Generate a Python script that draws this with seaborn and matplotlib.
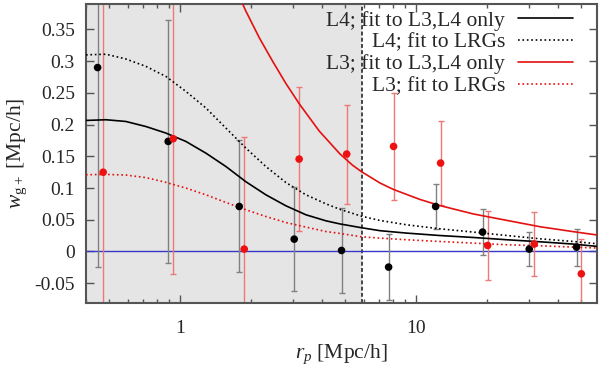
import numpy as np
import pandas as pd
import matplotlib
matplotlib.use("Agg")
import matplotlib.pyplot as plt
import seaborn as sns

# measured points, L4 sample (black) and L3 sample (red)
r_l4 = [0.448, 0.892, 1.784, 3.05, 4.84, 7.66, 12.12, 19.16, 30.2, 47.9]
w_l4 = [0.290, 0.1735, 0.071, 0.0195, 0.0016, -0.0246, 0.071, 0.0306, 0.0038, 0.0069]
e_l4 = [0.315, 0.192, 0.104, 0.082, 0.067, 0.052, 0.035, 0.036, 0.027, 0.029]

r_l3 = [0.473, 0.937, 1.873, 3.20, 5.09, 8.04, 12.72, 20.13, 31.7, 50.2]
w_l3 = [0.125, 0.1778, 0.0038, 0.1457, 0.1536, 0.1656, 0.1394, 0.0095, 0.0117, -0.0352]
e_l3 = [0.30, 0.2135, 0.176, 0.114, 0.078, 0.085, 0.066, 0.054, 0.051, 0.055]

r_fit = [0.400, 0.486, 0.590, 0.718, 0.872, 1.060, 1.289, 1.566, 1.903, 2.313, 2.811, 3.417,
         4.153, 4.76, 5.87, 7.04, 9.13, 12.6, 17.5, 24.3, 33.6, 46.4, 59.1]
w_l4_own = [0.2066, 0.2077, 0.205, 0.197, 0.1867, 0.1735, 0.155, 0.134, 0.110, 0.0894, 0.0721,
            0.0579, 0.0484, 0.0435, 0.0375, 0.0328, 0.029, 0.0252, 0.0221, 0.0185, 0.0153,
            0.0117, 0.0079]
w_l4_lrg = [0.310, 0.311, 0.3035, 0.2918, 0.276, 0.2524, 0.2262, 0.1946, 0.163, 0.134, 0.1088,
            0.0894, 0.0752, 0.0665, 0.0557, 0.0489, 0.0421, 0.0358, 0.0306, 0.0252, 0.020,
            0.0158, 0.0121]
w_l3_lrg = [0.121, 0.1215, 0.1205, 0.1165, 0.109, 0.100, 0.0894, 0.0773, 0.0658, 0.0552, 0.0457,
            0.0385, 0.0315, 0.0285, 0.0232, 0.0211, 0.0185, 0.0158, 0.0132, 0.0106, 0.009,
            0.0069, 0.0054]

r_l3_fit = [1.75, 1.903, 2.169, 2.470, 2.811, 3.201, 3.891, 4.76, 5.39, 5.87, 7.04, 8.03, 10.39,
            12.6, 17.5, 24.3, 33.6, 46.4, 59.1]
w_l3_own = [0.409, 0.379, 0.337, 0.300, 0.265, 0.233, 0.190, 0.154, 0.136, 0.126, 0.108, 0.0978,
            0.0821, 0.0725, 0.0592, 0.049, 0.039, 0.0313, 0.0258]

r_cut = 5.9

sns.set_theme(style="ticks")
plt.rcParams["font.family"] = ["Liberation Serif", "DejaVu Serif"]
plt.rcParams["mathtext.fontset"] = "custom"
plt.rcParams["mathtext.rm"] = "Liberation Serif"
plt.rcParams["mathtext.it"] = "Liberation Serif:italic"

fig, ax = plt.subplots(figsize=(6, 3.73), dpi=100)
fig.subplots_adjust(left=0.1433, right=0.995, top=0.989, bottom=0.188)

ax.axvspan(0.3, r_cut, color="#e5e5e5", zorder=0, lw=0)
ax.axvline(r_cut, color="#444444", lw=1.4, ls=(0, (2, 1.2)), zorder=1)
ax.axhline(0, color="#3838c8", lw=1.0, zorder=1)

fits = [
    (r_fit, w_l4_own, "L4; fit to L3,L4 only", "black", "-"),
    (r_fit, w_l4_lrg, "L4; fit to LRGs", "black", ":"),
    (r_l3_fit, w_l3_own, "L3; fit to L3,L4 only", "#e3110f", "-"),
    (r_fit, w_l3_lrg, "L3; fit to LRGs", "#e3110f", ":"),
]
for rr, ww, lab, col, ls in fits:
    df = pd.DataFrame({"r": rr, "w": ww})
    sns.lineplot(data=df, x="r", y="w", ax=ax, color=col, linestyle=ls, lw=1.2,
                 label=lab, sort=False, estimator=None, zorder=3)

ax.errorbar(r_l4, w_l4, yerr=e_l4, fmt="none", ecolor="#808080", elinewidth=1.0,
            capsize=2.5, capthick=1.0, zorder=2)
ax.errorbar(r_l3, w_l3, yerr=e_l3, fmt="none", ecolor="#ee7777", elinewidth=1.0,
            capsize=2.5, capthick=1.0, zorder=2)
sns.scatterplot(x=r_l4, y=w_l4, ax=ax, color="black", s=30, edgecolor="none", zorder=4)
sns.scatterplot(x=r_l3, y=w_l3, ax=ax, color="#ee1111", s=30, edgecolor="none", zorder=4)

ax.set_xscale("log")
ax.set_xlim(0.4, 58.5)
ax.set_ylim(-0.081, 0.39)
ax.set_yticks([-0.05, 0, 0.05, 0.1, 0.15, 0.2, 0.25, 0.3, 0.35])
ax.set_yticklabels(["-0.05", "0", "0.05", "0.1", "0.15", "0.2", "0.25", "0.3", "0.35"])
ax.set_xticks([1, 10])
ax.set_xticklabels(["1", "10"])
ax.tick_params(which="both", direction="in", top=True, right=True, color="#555555",
               labelsize=14, width=1.0)
ax.tick_params(which="major", length=6)
ax.tick_params(which="minor", length=3)
ax.tick_params(axis="x", which="major", pad=12)
ax.tick_params(axis="y", which="major", pad=8)
for sp in ax.spines.values():
    sp.set_color("#555555")
    sp.set_linewidth(1.5)

ax.set_xlabel("$r_p$ [Mpc/h]", fontsize=15.5, labelpad=4)
ax.set_ylabel(r"$w_{\rm g+}$ [Mpc/h]", fontsize=15.5, labelpad=4)

leg = ax.legend(loc="upper right", bbox_to_anchor=(0.953, 0.978), markerfirst=False,
                frameon=False, fontsize=15.5, handlelength=2.55, handletextpad=0.6,
                labelspacing=0.08, borderaxespad=0.0, borderpad=0.0)

fig.savefig("out.png", dpi=100)
